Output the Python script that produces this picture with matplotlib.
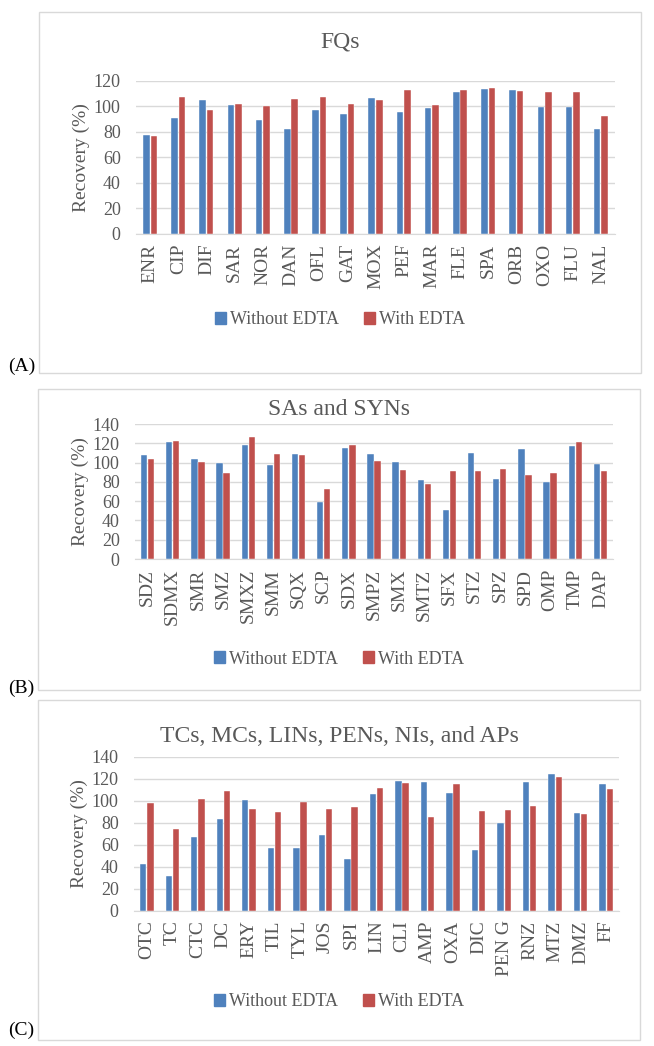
import matplotlib
matplotlib.use('Agg')
import matplotlib.pyplot as plt
import numpy as np
from matplotlib.patches import Rectangle, Patch

# panel A: fluoroquinolones
fq_names = ['ENR', 'CIP', 'DIF', 'SAR', 'NOR', 'DAN', 'OFL', 'GAT', 'MOX',
            'PEF', 'MAR', 'FLE', 'SPA', 'ORB', 'OXO', 'FLU', 'NAL']
fq_without = [77.7, 91, 105, 101, 89.4, 82.4, 97.3, 93.9, 106.6,
              95.2, 98.3, 110.8, 113.4, 112.4, 99.1, 99.1, 82.1]
fq_with = [76.4, 107, 97, 101.7, 100.4, 105.6, 107, 102, 104.8,
           112.9, 100.9, 112.4, 114.2, 111.9, 111.3, 111.3, 92.3]

# panel B: sulfonamides and synergists
sa_names = ['SDZ', 'SDMX', 'SMR', 'SMZ', 'SMXZ', 'SMM', 'SQX', 'SCP', 'SDX',
            'SMPZ', 'SMX', 'SMTZ', 'SFX', 'STZ', 'SPZ', 'SPD', 'OMP', 'TMP', 'DAP']
sa_without = [108.2, 121.3, 103.3, 99.9, 118.2, 97.8, 109.2, 59.5, 115.1,
              108.9, 100.6, 81.9, 51.2, 109.9, 82.6, 113.7, 80.2, 117.2, 98.2]
sa_with = [103.7, 122, 100.9, 88.8, 126.2, 109.2, 108.2, 72.6, 118.6,
           101.6, 92.6, 78.1, 90.9, 91.3, 93, 86.8, 89.2, 121.3, 90.9]

# panel C: the rest
tc_names = ['OTC', 'TC', 'CTC', 'DC', 'ERY', 'TIL', 'TYL', 'JOS', 'SPI', 'LIN',
            'CLI', 'AMP', 'OXA', 'DIC', 'PEN G', 'RNZ', 'MTZ', 'DMZ', 'FF']
tc_without = [42.4, 31.5, 66.7, 83.6, 100.6, 56.7, 56.7, 68.5, 46.7, 105.8,
              117.6, 116.7, 107, 54.8, 80, 116.7, 124.2, 88.5, 115.2]
tc_with = [97.6, 74.2, 101.8, 108.5, 92.7, 90, 98.5, 92.4, 93.9, 111.8,
           116, 85.2, 114.8, 90.6, 91.2, 95.5, 121.8, 88.2, 110.6]

title_text = {'A': 'FQs', 'B': 'SAs and SYNs',
              'C': 'TCs, MCs, LINs, PENs, NIs, and APs'}

W, H = 654, 1046
BLUE = '#4F81BD'
RED = '#C0504D'
GRID = '#D9D9D9'
TXT = '#595959'

plt.rcParams['font.family'] = ['Liberation Serif', 'DejaVu Serif']

fig = plt.figure(figsize=(W / 100, H / 100), dpi=100)


def fx(px):
    return px / W


def fy(py):
    return 1 - py / H


def panel(names, without, with_, ymax, box, axbox, title_y, legend_y, tag, tag_y, width):
    # light border round each chart
    bx0, by0, bx1, by1 = box
    fig.patches.append(Rectangle((fx(bx0), fy(by1)), fx(bx1 - bx0), (by1 - by0) / H,
                                 transform=fig.transFigure, fill=False,
                                 edgecolor=GRID, linewidth=1.0))
    x0, ytop, x1, ybot = axbox
    ax = fig.add_axes([fx(x0), fy(ybot), fx(x1 - x0), (ybot - ytop) / H])
    x = np.arange(len(names))
    ax.bar(x - width / 2 - 0.015, without, width, color=BLUE, edgecolor='white',
           linewidth=0.3, zorder=3)
    ax.bar(x + width / 2 + 0.015, with_, width, color=RED, edgecolor='white',
           linewidth=0.3, zorder=3)
    ax.set_xlim(-0.5, len(names) - 0.5)
    ax.set_ylim(0, ymax)
    ax.set_yticks(np.arange(0, ymax + 1, 20))
    ax.yaxis.grid(True, color=GRID, linewidth=1.0, zorder=0)
    ax.set_axisbelow(True)
    for s in ['top', 'right', 'left']:
        ax.spines[s].set_visible(False)
    ax.spines['bottom'].set_color(GRID)
    ax.set_xticks(x)
    ax.set_xticklabels(names, rotation=90, fontsize=14, color=TXT)
    ax.tick_params(axis='both', length=0, colors=TXT)
    ax.tick_params(axis='y', labelsize=13, pad=11)
    ax.tick_params(axis='x', pad=7)
    ax.set_ylabel('Recovery (%)', fontsize=14, color=TXT, labelpad=3)
    fig.text(fx((bx0 + bx1) / 2), fy(title_y), title_text[tag], ha='center', va='center',
             fontsize=17, color=TXT)
    handles = [Patch(color=BLUE, label='Without EDTA'), Patch(color=RED, label='With EDTA')]
    fig.legend(handles=handles, loc='center', bbox_to_anchor=(fx((bx0 + bx1) / 2), fy(legend_y)),
               ncol=2, frameon=False, fontsize=13, handlelength=0.6, handleheight=0.6,
               handletextpad=0.2, columnspacing=1.4, labelcolor=TXT)
    fig.text(fx(8), fy(tag_y), '(' + tag + ')', ha='left', va='center', fontsize=14,
             color='black')
    return ax


panel(fq_names, fq_without, fq_with, 120, (39, 12, 641, 373), (136, 80.7, 615, 234),
      42, 320, 'A', 366, 0.235)
panel(sa_names, sa_without, sa_with, 140, (38, 389, 640, 690), (135, 424, 613, 559),
      409, 659, 'B', 688, 0.25)
panel(tc_names, tc_without, tc_with, 140, (38, 700, 640, 1040), (134, 756.7, 619, 910.7),
      737, 1002, 'C', 1030, 0.25)

fig.savefig('out.png', dpi=100)
